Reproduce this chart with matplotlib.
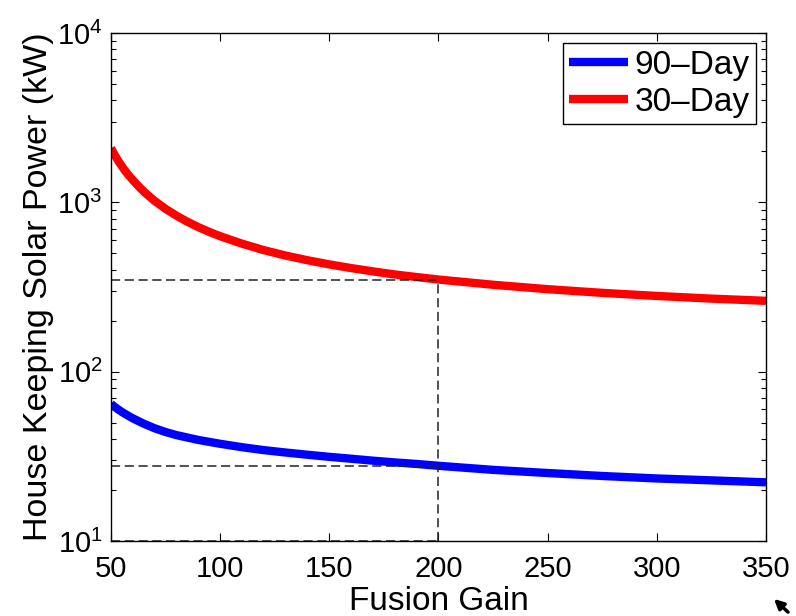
import numpy as np
import matplotlib.pyplot as plt
from matplotlib.ticker import FixedLocator, LogLocator, NullFormatter

plt.rcParams["font.family"] = ["Liberation Sans", "DejaVu Sans"]
plt.rcParams["mathtext.fontset"] = "custom"
plt.rcParams["mathtext.rm"] = "Liberation Sans"

# values
gain_30 = [50, 52, 54, 56, 58, 60, 63, 66, 70, 75, 80, 85, 90, 95, 100, 110,
           120, 130, 140, 150, 160, 170, 180, 190, 200, 225, 250, 275, 300,
           325, 350]
power_30day = [2090, 1875, 1705, 1565, 1450, 1355, 1230, 1128, 1020, 915, 834,
               768, 714, 669, 631, 570, 522, 485, 455, 430, 409, 391, 375, 362,
               350, 326, 307, 292, 280, 270, 262]

gain_90 = [50, 52, 55, 58, 60, 65, 70, 75, 80, 90, 100, 110, 120, 130, 140,
           150, 160, 170, 180, 190, 200, 225, 250, 275, 300, 325, 350]
power_90day = [64.5, 61.5, 57.8, 54.8, 53.0, 49.3, 46.3, 44.0, 42.2, 39.5, 37.5,
               35.8, 34.4, 33.3, 32.3, 31.4, 30.6, 29.8, 29.1, 28.5, 27.8, 26.3,
               25.2, 24.2, 23.4, 22.8, 22.2]

design_gain = 200
design_30 = 350
design_90 = 27.8
y_floor = 10

x_ticks = [50, 100, 150, 200, 250, 300, 350]
y_ticks = [10, 100, 1000, 10000]
y_tick_labels = [r"$\mathregular{10^{1}}$", r"$\mathregular{10^{2}}$",
                 r"$\mathregular{10^{3}}$", r"$\mathregular{10^{4}}$"]

fig = plt.figure(figsize=(7.96, 6.16), dpi=100)
ax = fig.add_axes([0.1394, 0.1218, 0.8229, 0.8246])

ax.plot(gain_90, power_90day, color="#0000ff", lw=6, label="90\u2013Day",
        solid_capstyle="butt")
ax.plot(gain_30, power_30day, color="#ff0000", lw=6, label="30\u2013Day",
        solid_capstyle="butt")

dash = dict(color="#222222", lw=1.1, dashes=(6, 3))
ax.plot([gain_30[0], design_gain], [design_30, design_30], **dash)
ax.plot([gain_30[0], design_gain], [design_90, design_90], **dash)
ax.plot([gain_30[0], design_gain], [y_floor, y_floor], **dash)
ax.plot([design_gain, design_gain], [y_floor, design_30], **dash)

ax.set_yscale("log")
ax.set_xlim(50, 350)
ax.set_ylim(10, 10000)
ax.xaxis.set_major_locator(FixedLocator(x_ticks))
ax.set_yticks(y_ticks)
ax.set_yticklabels(y_tick_labels)
ax.yaxis.set_minor_locator(LogLocator(base=10, subs=np.arange(2, 10)))
ax.yaxis.set_minor_formatter(NullFormatter())

ax.tick_params(which="both", direction="in", top=True, right=True,
               labelsize=21, width=0.8)
ax.tick_params(axis="x", pad=10)
ax.tick_params(axis="y", pad=6)
ax.tick_params(which="major", length=6)
ax.tick_params(which="minor", length=3.5)
for s in ax.spines.values():
    s.set_linewidth(1.0)

ax.set_xlabel("Fusion Gain", fontsize=24, labelpad=2)
ax.set_ylabel("House Keeping Solar Power (kW)", fontsize=24.5, labelpad=2)

leg = ax.legend(loc="upper right", fontsize=24, frameon=True, fancybox=False,
                edgecolor="black", framealpha=1, handlelength=1.75,
                handletextpad=0.2, borderpad=0.2, labelspacing=0.18,
                borderaxespad=0.3)
leg.get_frame().set_linewidth(1.0)

# mouse pointer left in the original screenshot
ax.annotate("", xy=(772 / 796, 1 - 597 / 616), xytext=(790 / 796, 1 - 614 / 616),
            xycoords="figure fraction", textcoords="figure fraction",
            arrowprops=dict(arrowstyle="-|>", color="black", lw=2.5,
                            mutation_scale=14))

fig.savefig("out.png", dpi=100)
